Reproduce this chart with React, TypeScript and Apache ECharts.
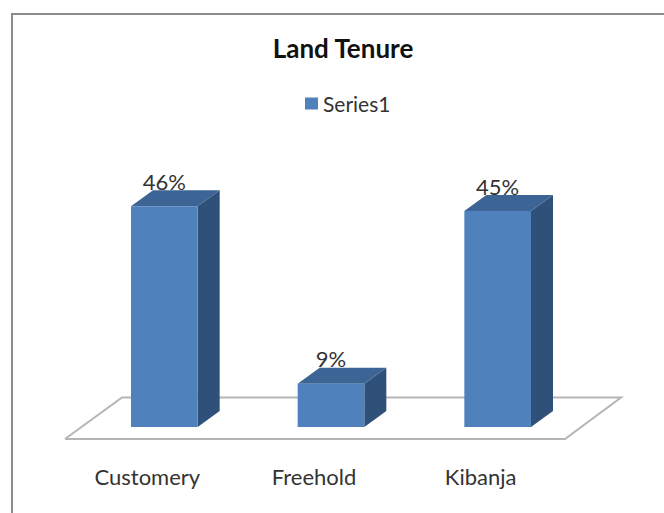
import React, { useEffect, useRef } from "react";
import * as echarts from "echarts";

const categories = ["Customery", "Freehold", "Kibanja"];
const seriesName = "Series1";
const values = [46, 9, 45];
const chartTitle = "Land Tenure";

const FONT = "Lato, 'Open Sans', sans-serif";
const FRONT = "#4f81bd";
const TOP = "#3c6495";
const SIDE = "#2f5078";
const DEPTH_X = 22;
const DEPTH_Y = 16;
const BAR_RATIO = 0.4;

export default function App() {
  const ref = useRef<HTMLDivElement>(null);

  useEffect(() => {
    document.body.style.margin = "0";
    const chart = echarts.init(ref.current!, null, { renderer: "svg" });
    chart.setOption({
      animation: false,
      backgroundColor: "#fff",
      title: {
        text: chartTitle,
        left: 338,
        top: 30,
        textAlign: "center",
        textStyle: { fontFamily: FONT, fontSize: 26, fontWeight: "bold", color: "#111" },
      },
      legend: {
        data: [seriesName],
        left: 300,
        top: 88,
        itemWidth: 13,
        itemHeight: 12,
        itemGap: 5,
        icon: "rect",
        textStyle: { fontFamily: FONT, fontSize: 21, color: "#333" },
      },
      grid: { left: 81, width: 500, top: 187, height: 240 },
      xAxis: {
        type: "category",
        data: categories,
        axisLine: { show: false },
        axisTick: { show: false },
        axisLabel: {
          fontFamily: FONT,
          fontSize: 22,
          color: "#333",
          margin: 38,
          padding: [0, 34, 0, 0],
        },
      },
      yAxis: { type: "value", min: 0, max: 50, show: false, splitLine: { show: false } },
      graphic: [
        {
          type: "polyline",
          silent: true,
          z: 0,
          shape: { points: [[65, 439], [565, 439], [621, 397.5], [122, 397.5], [65, 439]] },
          style: { fill: "#fff", stroke: "#b5b5b5", lineWidth: 2 },
        },
        {
          type: "rect",
          silent: true,
          z: 0,
          shape: { x: 12, y: 14, width: 700, height: 560 },
          style: { fill: "none", stroke: "#8c8c8c", lineWidth: 2 },
        },
      ],
      series: [
        {
          type: "custom",
          name: seriesName,
          z: 5,
          itemStyle: { color: FRONT },
          data: values.map((v, i) => [i, v]),
          encode: { x: 0, y: 1 },
          renderItem: (_params: any, api: any) => {
            const i = api.value(0);
            const v = api.value(1);
            const [cx, top] = api.coord([i, v]);
            const [, base] = api.coord([i, 0]);
            const w = api.size([1, 0])[0] * BAR_RATIO;
            const l = cx - w / 2;
            const r = cx + w / 2;
            const dx = DEPTH_X;
            const dy = DEPTH_Y;
            return {
              type: "group",
              children: [
                {
                  type: "text",
                  x: cx,
                  y: top - 25,
                  style: {
                    text: `${v}%`,
                    fontFamily: FONT,
                    fontSize: 22,
                    fill: "#333",
                    align: "center",
                    verticalAlign: "middle",
                  },
                },
                {
                  type: "polygon",
                  shape: { points: [[r, top], [r + dx, top - dy], [r + dx, base - dy], [r, base]] },
                  style: { fill: SIDE },
                },
                {
                  type: "polygon",
                  shape: { points: [[l, top], [l + dx, top - dy], [r + dx, top - dy], [r, top]] },
                  style: { fill: TOP },
                },
                {
                  type: "rect",
                  shape: { x: l, y: top, width: w, height: base - top },
                  style: { fill: FRONT },
                },
              ],
            };
          },
        },
      ],
    });
    return () => chart.dispose();
  }, []);

  return <div ref={ref} style={{ position: "absolute", left: 0, top: 0, width: 664, height: 513 }} />;
}
